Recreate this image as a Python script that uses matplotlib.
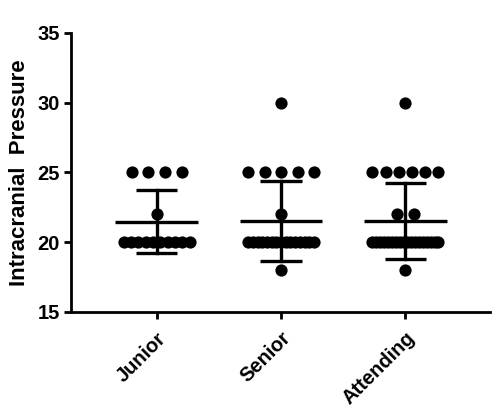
import numpy as np
import matplotlib
matplotlib.use("Agg")
import matplotlib.pyplot as plt

plt.rcParams['font.family'] = ['Liberation Sans', 'DejaVu Sans']
plt.rcParams['font.weight'] = 'bold'

categories = ["Junior", "Senior", "Attending"]
junior = [25]*4 + [22] + [20]*10
senior = [30] + [25]*5 + [22] + [20]*15 + [18]
attending = [30] + [25]*6 + [22]*2 + [20]*18 + [18]
groups = [junior, senior, attending]
yticks = [15, 20, 25, 30, 35]

fig = plt.figure(figsize=(4.99, 4.11), dpi=100)
ax = fig.add_axes([0.142, 0.241, 0.840, 0.679])

step = 0.134      # nominal spacing between stacked dots (data units)
maxw = 0.53       # max row width

for i, vals in enumerate(groups, start=1):
    vals = np.array(vals, dtype=float)
    xs, ys = [], []
    for v in np.unique(vals):
        n = int(np.sum(vals == v))
        s = step if n <= 1 else min(step, maxw / (n - 1))
        offs = (np.arange(n) - (n - 1) / 2) * s
        xs.extend(i + offs)
        ys.extend([v] * n)
    ax.plot(xs, ys, 'o', color='black', markersize=8.8, zorder=3, markeredgewidth=0)
    m = vals.mean()
    sd = vals.std(ddof=1)
    ax.plot([i - 0.333, i + 0.333], [m, m], color='black', lw=2.4, zorder=4, solid_capstyle='butt')
    ax.plot([i, i], [m - sd, m + sd], color='black', lw=2.4, zorder=4)
    for e in (m - sd, m + sd):
        ax.plot([i - 0.167, i + 0.167], [e, e], color='black', lw=2.4, zorder=4, solid_capstyle='butt')

ax.set_xlim(0.31, 3.68)
ax.set_ylim(15, 35)
ax.set_yticks(yticks)
ax.set_yticklabels([str(t) for t in yticks], fontsize=14.5, fontweight='bold')
ax.set_xticks([1, 2, 3])
ax.set_xticklabels(categories, rotation=45, ha='right', rotation_mode='anchor',
                   fontsize=14.5, fontweight='bold')
ax.set_ylabel("Intracranial  Pressure", fontsize=16, fontweight='bold', labelpad=5)

for sp in ['top', 'right']:
    ax.spines[sp].set_visible(False)
for sp in ['left', 'bottom']:
    ax.spines[sp].set_linewidth(2.0)
ax.tick_params(axis='both', width=2.0, length=5, pad=3)
ax.tick_params(axis='x', pad=7)

fig.savefig("out.png", dpi=100)
